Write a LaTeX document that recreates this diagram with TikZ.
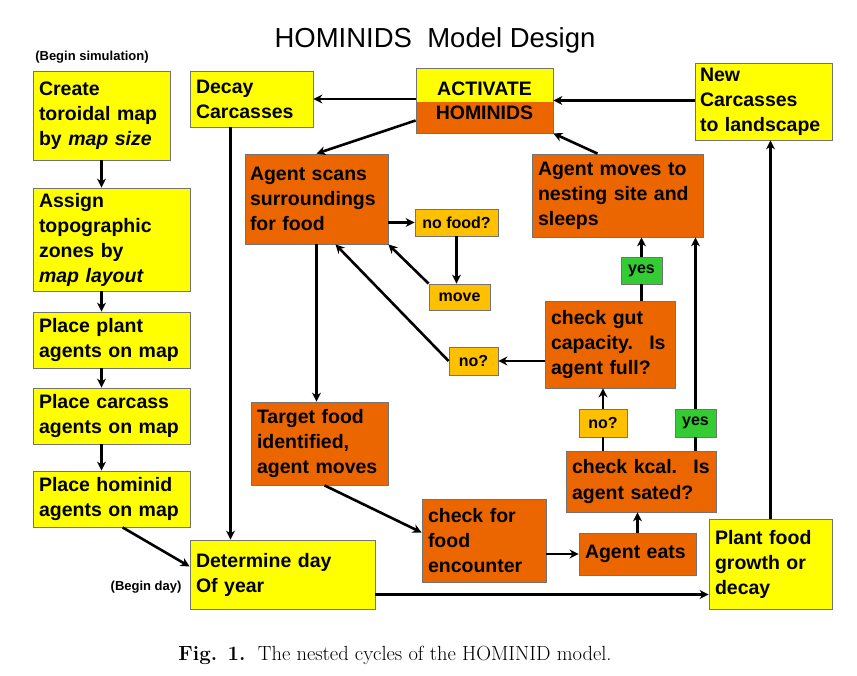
\documentclass[tikz,border=0pt]{standalone}
\usepackage{fontspec}
\usetikzlibrary{arrows.meta,calc}
\newfontfamily\boxfont{Liberation Sans}
\definecolor{boxyellow}{RGB}{255,255,0}
\definecolor{boxorange}{RGB}{236,102,0}
\definecolor{tagamber}{RGB}{255,192,0}
\definecolor{taggreen}{RGB}{51,204,51}

\begin{document}
\begin{tikzpicture}[x=1pt,y=-1pt,
  box/.style={draw=black!55,line width=0.8pt,inner sep=0pt,align=left,
    font=\boxfont\bfseries\fontsize{19.5}{25}\selectfont},
  ybox/.style={box,fill=boxyellow},
  obox/.style={box,fill=boxorange},
  tag/.style={draw=black!55,line width=0.8pt,inner sep=0pt,fill=tagamber,
    font=\boxfont\bfseries\fontsize{16}{18}\selectfont},
  gtag/.style={tag,fill=taggreen},
  flow/.style={line width=2.6pt,-{Stealth[length=9pt,width=9pt]}},
  link/.style={line width=2.6pt}]
\useasboundingbox (0,0) rectangle (857,676);
% headings
\node[font=\boxfont\fontsize{27.5}{30}\selectfont] (title) at (435,40) {HOMINIDS\ \ Model Design};
\node[font=\boxfont\bfseries\fontsize{13}{15}\selectfont] (beginsim) at (92,57) {(Begin simulation)};
\node[font=\boxfont\bfseries\fontsize{13}{15}\selectfont,anchor=east] (beginday) at (185,587) {(Begin day)};
% setup column
\node[ybox,minimum width=137pt,minimum height=89pt,text width=125pt] (create) at (101.5,115.5)
  {Create\\toroidal map\\by \textit{map size}};
\node[ybox,minimum width=157pt,minimum height=103pt,text width=145pt] (assign) at (111.5,239.5)
  {Assign\\topographic\\zones by\\\textit{map layout}};
\node[ybox,minimum width=157pt,minimum height=56pt,text width=145pt] (plant) at (111.5,340)
  {Place plant\\agents on map};
\node[ybox,minimum width=157pt,minimum height=56pt,text width=145pt] (carcass) at (111.5,416)
  {Place carcass\\agents on map};
\node[ybox,minimum width=157pt,minimum height=56pt,text width=145pt] (hominid) at (111.5,499)
  {Place hominid\\agents on map};
% day cycle
\node[ybox,minimum width=123pt,minimum height=56pt,text width=111pt] (decay) at (251.5,99)
  {Decay\\Carcasses};
\node[box,align=center,minimum width=137pt,minimum height=65pt,
  path picture={
    \fill[boxorange] (path picture bounding box.south west) rectangle (path picture bounding box.north east);
    \fill[boxyellow] (path picture bounding box.north west) rectangle ([yshift=-2pt]path picture bounding box.east);
  }] (activate) at (484.5,100.5) {ACTIVATE\\[-1pt]HOMINIDS};
\node[ybox,minimum width=137pt,minimum height=77pt,text width=127pt] (newcarc) at (763.5,101.5)
  {New\\Carcasses\\to landscape};
\node[obox,minimum width=143pt,minimum height=90pt,text width=133pt] (scans) at (316.5,199)
  {Agent scans\\surroundings\\for food};
\node[obox,minimum width=171pt,minimum height=83pt,text width=159pt] (nest) at (617.5,195.5)
  {Agent moves to\\nesting site and\\sleeps};
\node[tag,minimum width=83pt,minimum height=27pt] (nofood) at (456.5,222.5) {no food?};
\node[tag,minimum width=61pt,minimum height=26pt] (move) at (459.5,297) {move};
\node[tag,minimum width=49pt,minimum height=28pt] (noA) at (473.5,361) {no?};
\node[gtag,minimum width=41pt,minimum height=27pt] (yesA) at (641.5,270.5) {yes};
\node[obox,minimum width=130pt,minimum height=87pt,text width=118pt] (gut) at (610,344.5)
  {check gut\\capacity.~ Is\\agent full?};
\node[tag,minimum width=48pt,minimum height=28pt] (noB) at (603,423) {no?};
\node[gtag,minimum width=41pt,minimum height=28pt] (yesB) at (695.5,423) {yes};
\node[obox,minimum width=150pt,minimum height=61pt,text width=138pt] (kcal) at (641,481.5)
  {check kcal.~ Is\\agent sated?};
\node[obox,minimum width=137pt,minimum height=83pt,text width=125pt] (target) at (319.5,443.5)
  {Target food\\identified,\\agent moves};
\node[obox,minimum width=124pt,minimum height=83pt,text width=112pt] (check) at (484,540.5)
  {check for\\food\\encounter};
\node[obox,minimum width=117pt,minimum height=42pt,text width=105pt] (eats) at (637.5,554)
  {Agent eats};
\node[ybox,minimum width=185pt,minimum height=69pt,text width=173pt] (determine) at (282.5,574.5)
  {Determine day\\Of year};
\node[ybox,minimum width=123pt,minimum height=90pt,text width=111pt] (plantfood) at (770.5,564)
  {Plant food\\growth or\\decay};
% caption
\node (caption) at (395,655) {\fontsize{20.5}{24}\selectfont\textbf{Fig. 1.}\ \ The nested cycles of the HOMINID model.};
% setup arrows
\draw[flow] (create.south) -- (create |- assign.north);
\draw[flow] (create |- assign.south) -- (create |- plant.north);
\draw[flow] (create |- plant.south) -- (create |- carcass.north);
\draw[flow] (create |- carcass.south) -- (create |- hominid.north);
\coordinate (homout) at ($(hominid.south west)!0.57!(hominid.south east)$);
\draw[flow] (homout) -- ([yshift=8pt]determine.west);
% main loop
\coordinate (decayout) at ([xshift=-21pt]decay.south);
\draw[flow] (decayout) -- (decayout |- determine.north);
\coordinate (dayout) at ([yshift=-20pt]determine.east);
\draw[flow] (dayout) -- (dayout -| plantfood.west);
\draw[flow] (plantfood.north) -- (plantfood.north |- newcarc.south);
\draw[flow] (newcarc.west |- activate) -- (activate.east);
\draw[flow] (activate.west |- decay.east) -- (decay.east);
\draw[flow] ([yshift=-20pt]activate.west) -- (scans.north);
\draw[flow] ([xshift=-20pt]nest.north) -- (activate.south east);
% foraging
\draw[flow] (scans.east |- nofood) -- (nofood.west);
\draw[flow] (nofood.south) -- (nofood.south |- move.north);
\draw[flow] (move.north west) -- (scans.south east);
\draw[flow] (noA.west) -- ([xshift=19pt]scans.south);
\draw[flow] (gut.west |- noA) -- (noA.east);
\draw[flow] (scans.south) -- (scans.south |- target.north);
\draw[flow] ([xshift=5pt]target.south) -- ([yshift=8pt]check.west);
\draw[flow] (check.east |- eats) -- (eats.west);
\draw[flow] (eats.north) -- (eats.north |- kcal.south);
\draw[link] (noB |- kcal.north) -- (noB.south);
\draw[flow] (noB.north) -- (noB |- gut.south);
\draw[link] (yesB |- kcal.north) -- (yesB.south);
\draw[flow] (yesB.north) -- (yesB |- nest.south);
\draw[link] (yesA |- gut.north) -- (yesA.south);
\draw[flow] (yesA.north) -- (yesA |- nest.south);
\end{tikzpicture}
\end{document}
